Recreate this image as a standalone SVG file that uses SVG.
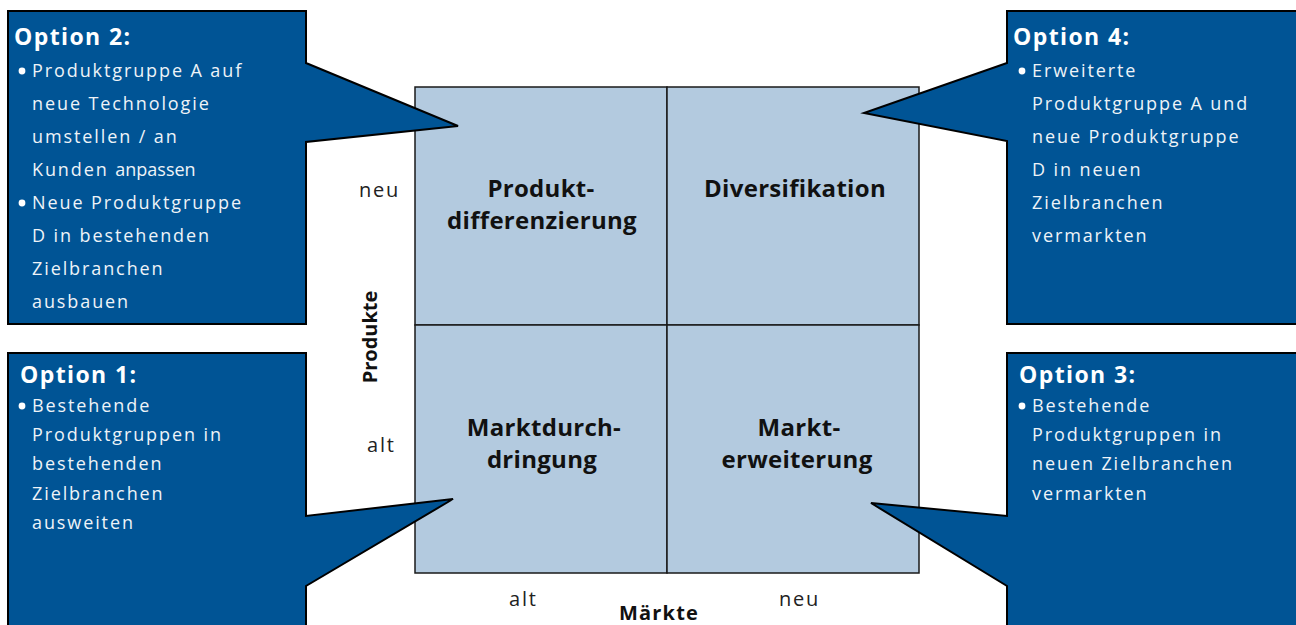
<svg xmlns="http://www.w3.org/2000/svg" width="1296" height="625" viewBox="0 0 1296 625">
  <style>
    .callout { fill: #005495; stroke: #000; stroke-width: 2; stroke-linejoin: miter; }
    .quad { fill: #b3cadf; stroke: #1a1a1a; stroke-width: 1.5; }
    .title { font-family: "Open Sans", "Noto Sans", sans-serif; font-weight: bold; font-size: 23px; fill: #ffffff; letter-spacing: 1.4px; }
    .body { font-family: "Open Sans", "Noto Sans", sans-serif; font-size: 18px; fill: #eef3f8; letter-spacing: 1.9px; }
    .tight { letter-spacing: 0px; }
    .bullet { fill: #ffffff; }
    .qlabel { font-family: "Open Sans", "Noto Sans", sans-serif; font-weight: bold; font-size: 24px; fill: #111; text-anchor: middle; letter-spacing: 0.3px; }
    .axis { font-family: "Open Sans", "Noto Sans", sans-serif; font-size: 20px; fill: #222; letter-spacing: 1.8px; }
    .axistitle { font-family: "Open Sans", "Noto Sans", sans-serif; font-weight: bold; font-size: 20px; fill: #111; }
  </style>

  <rect width="1296" height="625" fill="#ffffff"/>

  <g id="matrix">
    <rect class="quad" x="415" y="87" width="252" height="238"/>
    <rect class="quad" x="667" y="87" width="252" height="238"/>
    <rect class="quad" x="415" y="325" width="252" height="248"/>
    <rect class="quad" x="667" y="325" width="252" height="248"/>
  </g>

  <g id="q-produktdifferenzierung">
    <text class="qlabel" x="541" y="197">Produkt-</text>
    <text class="qlabel" x="542" y="229">differenzierung</text>
  </g>
  <g id="q-diversifikation">
    <text class="qlabel" x="795" y="197">Diversifikation</text>
  </g>
  <g id="q-marktdurchdringung">
    <text class="qlabel" x="544" y="436">Marktdurch-</text>
    <text class="qlabel" x="542" y="468">dringung</text>
  </g>
  <g id="q-markterweiterung">
    <text class="qlabel" x="799" y="436">Markt-</text>
    <text class="qlabel" x="797" y="468">erweiterung</text>
  </g>

  <g id="axes">
    <text class="axis" x="359" y="197">neu</text>
    <text class="axis" x="367" y="452">alt</text>
    <text class="axis" x="509" y="606">alt</text>
    <text class="axis" x="779" y="606">neu</text>
    <text class="axistitle" x="659" y="620" text-anchor="middle" font-size="21" letter-spacing="1.2">Märkte</text>
    <text class="axistitle" transform="translate(377,337) rotate(-90)" text-anchor="middle">Produkte</text>
  </g>

  <g id="connectors">
  </g>

  <g id="option2">
    <path class="callout" d="M8,11 H306 V63 L458,126 L306,142 V324 H8 Z"/>
    <text class="title" x="14" y="45">Option 2:</text>
    <circle class="bullet" cx="22" cy="71" r="3.4"/>
    <text class="body" x="32" y="77">Produktgruppe A auf</text>
    <text class="body" x="32" y="110">neue Technologie</text>
    <text class="body" x="32" y="143">umstellen / an</text>
    <text class="body" x="32" y="176">Kunden <tspan class="tight">anpassen</tspan></text>
    <circle class="bullet" cx="22" cy="203" r="3.4"/>
    <text class="body" x="32" y="209">Neue Produktgruppe</text>
    <text class="body" x="32" y="242">D in bestehenden</text>
    <text class="body" x="32" y="275">Zielbranchen</text>
    <text class="body" x="32" y="308">ausbauen</text>
  </g>

  <g id="option4">
    <path class="callout" d="M1007,11 H1302 V324 H1007 V141 L864,113 L1007,63 Z"/>
    <text class="title" x="1013" y="45">Option 4:</text>
    <circle class="bullet" cx="1022" cy="71" r="3.4"/>
    <text class="body" x="1032" y="77">Erweiterte</text>
    <text class="body" x="1032" y="110">Produktgruppe A und</text>
    <text class="body" x="1032" y="143">neue Produktgruppe</text>
    <text class="body" x="1032" y="176">D in neuen</text>
    <text class="body" x="1032" y="209">Zielbranchen</text>
    <text class="body" x="1032" y="242">vermarkten</text>
  </g>

  <g id="option1">
    <path class="callout" d="M8,353 H306 V516 L453,499 L306,586 V632 H8 Z"/>
    <text class="title" x="20" y="383">Option 1:</text>
    <circle class="bullet" cx="22" cy="406" r="3.4"/>
    <text class="body" x="32" y="412">Bestehende</text>
    <text class="body" x="32" y="441">Produktgruppen in</text>
    <text class="body" x="32" y="470">bestehenden</text>
    <text class="body" x="32" y="500">Zielbranchen</text>
    <text class="body" x="32" y="529">ausweiten</text>
  </g>

  <g id="option3">
    <path class="callout" d="M1007,353 H1302 V632 H1007 V586 L871,503 L1007,516 Z"/>
    <text class="title" x="1019" y="383">Option 3:</text>
    <circle class="bullet" cx="1022" cy="406" r="3.4"/>
    <text class="body" x="1032" y="412">Bestehende</text>
    <text class="body" x="1032" y="441">Produktgruppen in</text>
    <text class="body" x="1032" y="470">neuen Zielbranchen</text>
    <text class="body" x="1032" y="500">vermarkten</text>
  </g>
</svg>
